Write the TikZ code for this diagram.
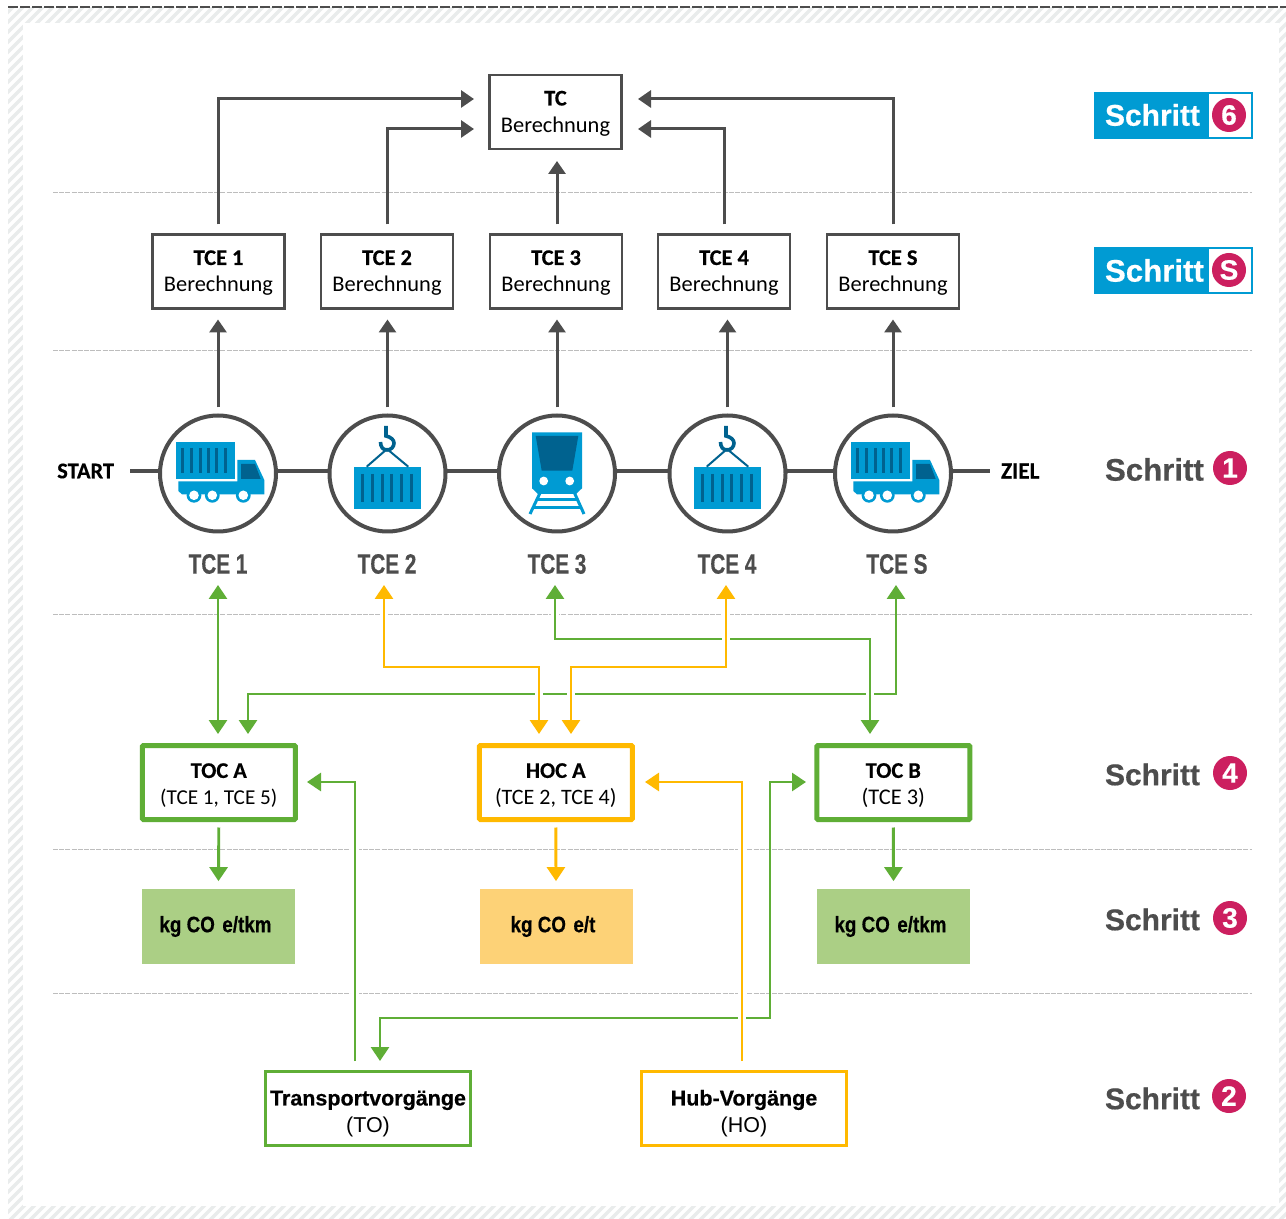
\documentclass[tikz,border=0pt]{standalone}
\usepackage{fontspec}
\setmainfont[BoldFeatures={FakeBold=0.4}]{Carlito}
\newfontfamily\arb[BoldFeatures={FakeBold=0.5}]{Liberation Sans}
\newfontfamily\arc[FakeStretch=0.74,BoldFeatures={FakeBold=0.5}]{Liberation Sans}
\newfontfamily\ark[FakeStretch=0.84,BoldFeatures={FakeBold=0.4}]{Liberation Sans}
\definecolor{dk}{HTML}{4D4D4D}
\definecolor{rule}{HTML}{BDBDBD}
\definecolor{hatch}{HTML}{E9ECEC}
\definecolor{gn}{HTML}{5FAE36}
\definecolor{yl}{HTML}{FFB900}
\definecolor{lgn}{HTML}{ABCF85}
\definecolor{lyl}{HTML}{FDD277}
\definecolor{bl}{HTML}{009BD3}
\definecolor{dbl}{HTML}{00628F}
\definecolor{pk}{HTML}{CC1F5F}
\usetikzlibrary{arrows.meta,calc}
\newcommand{\tstrut}[1]{\rule{0pt}{#1pt}}
\newcommand{\smalltwo}{\fontsize{10.6}{13.3}\selectfont}
\tikzset{
  x=0.5pt,y=-0.5pt,
  every node/.style={inner sep=0,outer sep=0},
  two/.style={font=\fontsize{11.2}{13.3}\selectfont,align=center,text=black},
  calcbox/.style={two,draw=dk,line width=1.3pt,minimum width=66pt,minimum height=37pt,fill=white},
  gbox/.style={two,draw=gn,line width=2.5pt,minimum width=76.5pt,minimum height=37pt,rounded corners=0.5pt},
  ybox/.style={two,draw=yl,line width=2.5pt,minimum width=76.5pt,minimum height=37pt,rounded corners=0.5pt},
  res/.style={minimum width=76.5pt,minimum height=37.4pt,font=\ark\bfseries\fontsize{11.2}{13}\selectfont,text=black},
  hub/.style={two,font=\arb\fontsize{10.75}{13.3}\selectfont,minimum height=37pt,line width=1.25pt},
  stn/.style={circle,draw=dk,line width=2pt,minimum size=58pt,fill=white},
  lab/.style={font=\arc\bfseries\fontsize{14}{16}\selectfont,text=dk},
  se/.style={font=\bfseries\fontsize{11.2}{13}\selectfont,text=black},
  pill/.style={circle,fill=pk,minimum size=17pt,text=white,font=\arb\bfseries\fontsize{14}{14}\selectfont},
  sg/.style={font=\arb\bfseries\fontsize{15}{16}\selectfont,text=dk,anchor=west},
  sw/.style={font=\arb\bfseries\fontsize{15}{16}\selectfont,text=white,anchor=west},
  da/.style={draw=dk,line width=1.5pt,-{Triangle[length=6.5pt,width=8.5pt]}},
  ga/.style={draw=gn,line width=1.45pt,-{Triangle[length=7pt,width=9pt]}},
  ya/.style={draw=yl,line width=1.45pt,-{Triangle[length=7pt,width=9pt]}},
  gaa/.style={draw=gn,line width=1.45pt,{Triangle[length=7pt,width=9pt]}-{Triangle[length=7pt,width=9pt]}},
  yaa/.style={draw=yl,line width=1.45pt,{Triangle[length=7pt,width=9pt]}-{Triangle[length=7pt,width=9pt]}},
  halo/.style={preaction={draw=white,line width=4pt,arrows=-}},
  trail/.style={draw=dk,line width=2pt},
  drule/.style={draw=rule,line width=0.5pt,dash pattern=on 2.5pt off 0.6pt}
}
\newcommand{\truckicon}[1]{%
 \begin{scope}[xshift=#1*0.5pt]
  \fill[bl] (176,442) rectangle (235,478.7);
  \foreach \q in {182.7,191.3,200,208.7,216.7,225.3}
    \draw[dbl,line width=1.5pt] (\q,448) -- (\q,472.7);
  \fill[bl] (237.3,460) -- (255,460) -- (264.3,480) -- (264.3,494.3) -- (182,494.3) -- (178.3,491) -- (178.3,481.5) -- (237.3,481.5) -- cycle;
  \fill[dbl] (241,464) -- (255,464) -- (260.7,479) -- (241,479) -- cycle;
  \foreach \q in {194,212.3,243.3}{
    \fill[bl] (\q,495.3) circle[radius=7.4];
    \fill[white] (\q,495.3) circle[radius=4.8];}
 \end{scope}}
\newcommand{\craneicon}[1]{%
 \begin{scope}[xshift=#1*0.5pt]
  \fill[bl] (354,467) rectangle (421,508.7);
  \foreach \q in {362.7,372.3,382,391.7,401.3,411}
    \draw[dbl,line width=1.5pt] (\q,474) -- (\q,502);
  \draw[dbl,line width=1pt] (366.7,466.7) -- (387,449) -- (408.3,466.7);
  \draw[dbl,line width=1.8pt] (386,426) -- (386,436) .. controls (391,437) and (394,440) .. (394,443) .. controls (394,447) and (391,450) .. (387,450) .. controls (383,450) and (380.5,447) .. (380.5,442);
 \end{scope}}
\begin{document}
\begin{tikzpicture}
\useasboundingbox (0,0) rectangle (1286,1219);
\fill[white] (0,0) rectangle (1286,1219);
% hatched frame
\begin{scope}
 \clip (8,8) rectangle (1286,1219);
 \foreach \t in {10,20,...,2510}
   \draw[hatch,line width=1.7pt] (\t,0) -- (\t-1230,1230);
\end{scope}
\fill[white] (23,23) rectangle (1279,1206);
\draw[dk,line width=1pt,dash pattern=on 5.2pt off 0.8pt] (8,7) -- (1286,7);
% dashed rules
\foreach \yy in {192.5,350.5,614.5,849.5,993.5}
  \draw[drule] (53,\yy) -- (1252,\yy);
% boxes
\node[calcbox] (tc) at (555.5,112) {\tstrut{8.7}\bfseries TC\\Berechnung};
\node[calcbox] (c1) at (218.5,271.5) {\tstrut{8.7}\bfseries TCE 1\\Berechnung};
\node[calcbox] (c2) at (387,271.5) {\tstrut{8.7}\bfseries TCE 2\\Berechnung};
\node[calcbox] (c3) at (556,271.5) {\tstrut{8.7}\bfseries TCE 3\\Berechnung};
\node[calcbox] (c4) at (724,271.5) {\tstrut{8.7}\bfseries TCE 4\\Berechnung};
\node[calcbox] (c5) at (893,271.5) {\tstrut{8.7}\bfseries TCE S\\Berechnung};
% stations
\coordinate (st) at (130,471);
\coordinate (zi) at (990,471);
\node[se,anchor=east] (start) at (114,471) {START};
\node[se,anchor=west,font=\bfseries\fontsize{11.6}{13}\selectfont] (ziel) at (1001,471) {ZIEL};
\draw[trail] (st) -- (zi);
\node[stn] (s1) at (218,473.5) {};
\node[stn] (s2) at (387.5,473.5) {};
\node[stn] (s3) at (557,473.5) {};
\node[stn] (s4) at (727.5,473.5) {};
\node[stn] (s5) at (893,473.5) {};
\truckicon{0}
\truckicon{675}
\craneicon{0}
\craneicon{340}
% train
\fill[bl] (532,432.3) -- (582,432.3) -- (582,488.3) -- (576,494) -- (538,494) -- (532,488.3) -- cycle;
\fill[dbl] (535.7,436) -- (578.3,436) -- (572.3,470.7) -- (541.7,470.7) -- cycle;
\fill[white] (543.7,481) circle[radius=4.4] (569.7,481) circle[radius=4.4];
\draw[bl,line width=1.5pt] (540,493) -- (530,514);
\draw[bl,line width=1.5pt] (574.5,493) -- (584,514);
\draw[bl,line width=1.5pt] (537,499.5) -- (577,499.5);
\draw[bl,line width=1.5pt] (533.5,507.5) -- (581,507.5);
% labels
\node[lab] (l1) at (218,564) {TCE 1};
\node[lab] (l2) at (387,564) {TCE 2};
\node[lab] (l3) at (557,564) {TCE 3};
\node[lab] (l4) at (727,564) {TCE 4};
\node[lab] (l5) at (897,564) {TCE S};
% TOC / HOC
\node[gbox] (ta) at (218.8,782.5) {\tstrut{10.2}\bfseries TOC A\\\smalltwo (TCE 1, TCE 5)};
\node[ybox] (ha) at (555.8,782.5) {\tstrut{10.2}\bfseries HOC A\\\fontsize{11}{13.3}\selectfont (TCE 2, TCE 4)};
\node[gbox] (tb) at (893.3,782.5) {\tstrut{10.2}\bfseries TOC B\\(TCE 3)};
\node[res,fill=lgn] (ra) at (218.5,926.5) {\raisebox{-0.8pt}{kg CO\,\,e/tkm}\rule{3pt}{0pt}};
\node[res,fill=lyl] (rh) at (556,926.5) {\raisebox{-0.8pt}{kg CO\,\,e/t}\rule{3pt}{0pt}};
\node[res,fill=lgn] (rb) at (893.5,926.5) {\raisebox{-0.8pt}{kg CO\,\,e/tkm}\rule{3pt}{0pt}};
\node[hub,draw=gn,minimum width=102.5pt] (to) at (368,1108.5) {\tstrut{12.5}\bfseries Transportvorgänge\\(TO)};
\node[hub,draw=yl,minimum width=102.5pt] (ho) at (744,1108.5) {\tstrut{12.5}\bfseries Hub-Vorgänge\\(HO)};
% upper arrows
\coordinate (tcw1) at (474,99);
\coordinate (tcw2) at (474,129);
\coordinate (tce1) at (638,99);
\coordinate (tce2) at (638,129);
\draw[da] ([yshift=5pt]c1.north -| s1) -- (s1 |- tcw1) -- (tcw1);
\draw[da] ([yshift=5pt]c2.north) -- (c2.north |- tcw2) -- (tcw2);
\draw[da] ([yshift=5pt]c3.north -| s3) -- ([yshift=-6pt]tc.south -| s3);
\draw[da] ([yshift=5pt]c4.north) -- (c4.north |- tce2) -- (tce2);
\draw[da] ([yshift=5pt]c5.north) -- (c5.north |- tce1) -- (tce1);
\foreach \a/\b in {s1/c1,s2/c2,s3/c3,s4/c4,s5/c5}
  \draw[da] ([yshift=4pt]\a.north) -- ([yshift=-5.5pt]\a.north |- \b.south);
% coloured links
\coordinate (p1) at (218,585);
\coordinate (p2) at (384,585);
\coordinate (p3) at (555,585);
\coordinate (p4) at (726,585);
\coordinate (p5) at (896,585);
\coordinate (q1) at (218,734);
\coordinate (q2) at (248,734);
\coordinate (q3) at (539,734);
\coordinate (q4) at (571,734);
\coordinate (q5) at (870,734);
\draw[gaa] (p5) -- (896,694) -- (248,694) -- (q2);
\draw[gaa,halo] (p3) -- (555,639) -- (870,639) -- (q5);
\draw[yaa,halo] (p2) -- (384,667) -- (539,667) -- (q3);
\draw[yaa,halo] (p4) -- (726,667) -- (571,667) -- (q4);
\draw[gaa] (p1) -- (q1);
\foreach \a/\b/\c in {ta/ra/ga,ha/rh/ya,tb/rb/ga}
  \draw[\c] ([yshift=-4pt]\a.south) -- ([yshift=4pt]\b.north);
% lower links
\coordinate (tip1) at (307,782);
\coordinate (tip2) at (645,782);
\coordinate (tip3) at (806,782);
\coordinate (tip4) at (380,1061);
\coordinate (from1) at (355,1061);
\coordinate (from2) at (742,1061);
\draw[gaa] (tip4) -- (380,1018) -- (770,1018) -- (770,782) -- (tip3);
\draw[ga,halo] (from1) -- (355,782) -- (tip1);
\draw[ya,halo] (from2) -- (742,782) -- (tip2);
% step legend
\fill[bl] (1094,92) rectangle (1253,139);
\fill[bl] (1094,247) rectangle (1253,294);
\fill[white] (1209,94) rectangle (1251,137);
\fill[white] (1209,249) rectangle (1251,292);
\node[sw] (t6) at (1105,115) {Schritt};
\node[sw,font=\arb\bfseries\fontsize{15.6}{16}\selectfont] (ts) at (1105,270.5) {Schritt};
\node[sg,font=\arb\bfseries\fontsize{15.6}{16}\selectfont] (t1) at (1105,469.5) {Schritt};
\node[sg] (t4) at (1105,774.5) {Schritt};
\node[sg] (t3) at (1105,919.5) {Schritt};
\node[sg] (t2) at (1105,1098.5) {Schritt};
\node[pill] (n6) at (1229,115) {6};
\node[pill] (ns) at (1229,270) {S};
\node[pill] (n1) at (1230,468) {1};
\node[pill] (n4) at (1230,773) {4};
\node[pill] (n3) at (1230,918) {3};
\node[pill] (n2) at (1229,1096) {2};
\end{tikzpicture}
\end{document}
